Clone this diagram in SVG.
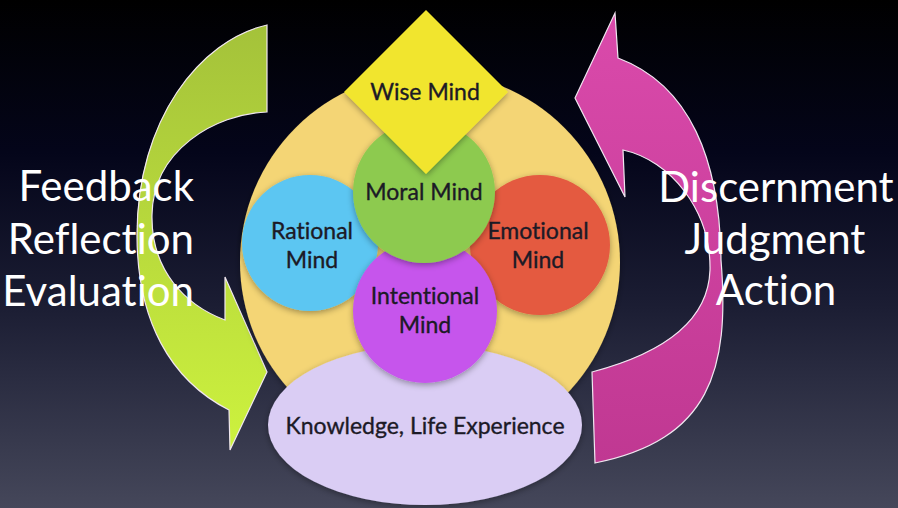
<svg xmlns="http://www.w3.org/2000/svg" width="898" height="508" viewBox="0 0 898 508">
  <defs>
    <linearGradient id="bg" x1="0" y1="0" x2="0" y2="1">
      <stop offset="0" stop-color="#000000"/>
      <stop offset="0.3" stop-color="#04051a"/>
      <stop offset="0.6" stop-color="#1b1d33"/>
      <stop offset="1" stop-color="#45475a"/>
    </linearGradient>
    <linearGradient id="gArrow" x1="0" y1="0" x2="0" y2="1">
      <stop offset="0" stop-color="#a4c23a"/>
      <stop offset="1" stop-color="#cdf23e"/>
    </linearGradient>
    <linearGradient id="mArrow" x1="0" y1="0" x2="0" y2="1">
      <stop offset="0" stop-color="#da4aab"/>
      <stop offset="1" stop-color="#c03892"/>
    </linearGradient>
    <filter id="sh" x="-20%" y="-20%" width="140%" height="140%">
      <feDropShadow dx="0" dy="2" stdDeviation="3" flood-color="#000" flood-opacity="0.35"/>
    </filter>
    <style>
      text { font-variant-ligatures: none; font-feature-settings: "liga" 0; }
      .lbl { font-family: Lato, "Open Sans", "Liberation Sans", sans-serif; font-size: 23px; fill: #1c1a26; stroke: #1c1a26; stroke-width: 0.35; text-anchor: middle; }
      .side { font-family: Lato, "Open Sans", "Liberation Sans", sans-serif; font-size: 42px; fill: #ffffff; }
      .arrow { stroke: #f0e6f0; stroke-width: 1.2; stroke-linejoin: miter; }
      .node { filter: url(#sh); }
    </style>
  </defs>

  <rect x="0" y="0" width="898" height="508" fill="url(#bg)"/>

  <g id="connectors">
    <path id="arrow-left" class="arrow" fill="url(#gArrow)" d="M267,25 L267,112 C215,114 153,150 152,215 C151,270 185,305 225,320 L225,277 L267,372 L230,450 L229,410 C170,380 137,320 137,235 C137,120 200,40 267,25 Z"/>
    <path id="arrow-right" class="arrow" fill="url(#mArrow)" d="M595,463 L592,372 C645,358 708,330 710,270 C711,210 670,160 623,150 L625,197 L575,98 L615,13 L618,58 C690,85 720,160 721,260 C730,370 710,440 595,463 Z"/>
  </g>

  <g id="base">
    <circle class="node" cx="430" cy="262" r="190" fill="#f4d574"/>
  </g>

  <g id="knowledge">
    <ellipse class="node" cx="425" cy="425" rx="157" ry="80" fill="#dacdf4"/>
    <text class="lbl" x="425" y="434">Knowledge, Life Experience</text>
  </g>

  <g id="rational">
    <circle class="node" cx="310" cy="243" r="68" fill="#5cc6f2"/>
    <text class="lbl" x="312" y="239">Rational</text>
    <text class="lbl" x="312" y="268">Mind</text>
  </g>

  <g id="emotional">
    <circle class="node" cx="540" cy="245" r="70" fill="#e45a40"/>
    <text class="lbl" x="538" y="239">Emotional</text>
    <text class="lbl" x="538" y="268">Mind</text>
  </g>

  <g id="intentional">
    <circle class="node" cx="425" cy="311" r="72" fill="#c655ec"/>
    <text class="lbl" x="425" y="304">Intentional</text>
    <text class="lbl" x="425" y="333">Mind</text>
  </g>

  <g id="moral">
    <circle class="node" cx="424" cy="192" r="71" fill="#8dca50"/>
    <text class="lbl" x="424" y="200">Moral Mind</text>
  </g>

  <g id="wise">
    <polygon class="node" points="426,10 508,92 426,174 344,92" fill="#f1e52e"/>
    <text class="lbl" x="425" y="100">Wise Mind</text>
  </g>

  <g id="left-text">
    <text class="side" x="194" y="201" text-anchor="end">Feedback</text>
    <text class="side" x="194" y="254" text-anchor="end">Reflection</text>
    <text class="side" x="194" y="306" text-anchor="end">Evaluation</text>
  </g>

  <g id="right-text">
    <text class="side" x="776" y="202" text-anchor="middle">Discernment</text>
    <text class="side" x="775" y="254" text-anchor="middle">Judgment</text>
    <text class="side" x="776" y="305" text-anchor="middle">Action</text>
  </g>
</svg>
